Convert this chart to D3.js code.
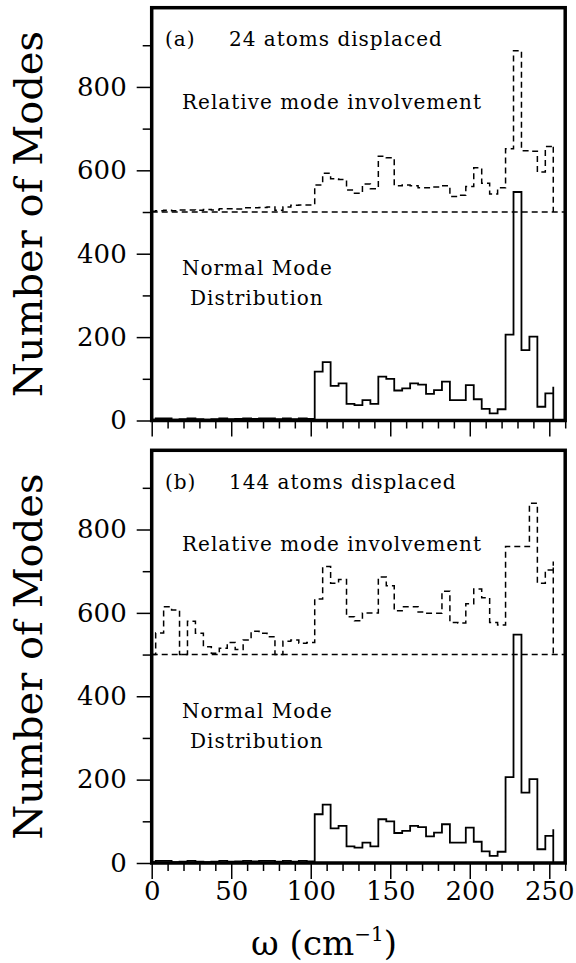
<!DOCTYPE html>
<html>
<head>
<meta charset="utf-8">
<script src="https://cdn.jsdelivr.net/npm/d3@7"></script>
<style>
  body { margin: 0; background: #fff; }
  svg { display: block; }
</style>
</head>
<body>
<svg id="chart" width="576" height="963"></svg>
<script>
// bin centres (cm^-1), 5 cm^-1 wide bins
var omega = [0, 5, 10, 15, 20, 25, 30, 35, 40, 45, 50, 55, 60, 65, 70, 75, 80, 85, 90, 95, 100,
    105, 110, 115, 120, 125, 130, 135, 140, 145, 150, 155, 160, 165, 170, 175, 180, 185, 190, 195, 200,
    205, 210, 215, 220, 225, 230, 235, 240, 245, 250];

// normal mode distribution (same in both panels)
var normalModes = [2, 5, 5, 2, 3, 5, 3, 2, 3, 5, 3, 4, 5, 4, 5, 5, 3, 5, 3, 5, 4,
    117, 140, 83, 89, 40, 37, 49, 40, 105, 100, 72, 77, 89, 86, 64, 73, 93, 49, 49, 85,
    51, 28, 17, 27, 206, 548, 169, 201, 33, 65];
var normalEnd = 81;

// relative mode involvement, drawn on top of the 500 line
var involvementA = [502, 503, 504, 503, 505, 505, 504, 506, 505, 508, 508, 507, 510, 510, 511, 512, 504, 512, 516, 517, 517,
    565, 593, 580, 578, 553, 545, 567, 556, 634, 630, 563, 565, 563, 558, 558, 560, 563, 537, 540, 561,
    606, 569, 543, 558, 652, 887, 647, 646, 596, 657];
var involvementAEnd = 660;

var involvementB = [500, 552, 615, 607, 500, 580, 551, 519, 503, 515, 529, 512, 535, 556, 551, 543, 500, 532, 535, 527, 529,
    633, 711, 671, 680, 591, 581, 600, 600, 686, 665, 605, 615, 615, 602, 599, 599, 652, 577, 576, 622,
    657, 636, 577, 571, 759, 759, 759, 863, 671, 703];
var involvementBEnd = 723;

var offsetLine = 500;

var yMajor = [0, 200, 400, 600, 800];
var yMinor = [100, 300, 500, 700, 900];
var xMajor = [0, 50, 100, 150, 200, 250];
var xMinor = [10, 20, 30, 40, 60, 70, 80, 90, 110, 120, 130, 140, 160, 170, 180, 190, 210, 220, 230, 240, 260];

var panels = [
    { top: 7.7, bottom: 420.5, tag: "(a)", title: "24 atoms displaced", involvement: involvementA, invEnd: involvementAEnd, labels: false },
    { top: 450.3, bottom: 863, tag: "(b)", title: "144 atoms displaced", involvement: involvementB, invEnd: involvementBEnd, labels: true }
];

var svg = d3.select("#chart");
var serif = "'DejaVu Serif', serif";

var x = d3.scaleLinear().domain([0, 260]).range([151.7, 565.2]);

function stepPoints(values, endValue, base) {
    var pts = values.map((v, i) => [Math.max(0, omega[i] - 2.5), v]);
    var last = omega[omega.length - 1] + 2.5;
    pts.push([last, endValue]);
    pts.push([last, base]);
    return pts;
}

function drawPanel(p) {
    var y = d3.scaleLinear().domain([0, 990]).range([p.bottom, p.top]);
    var g = svg.append("g");

    var line = d3.line()
        .x(d => x(d[0]))
        .y(d => y(d[1]))
        .curve(d3.curveStepAfter);

    // y axis, major + minor ticks
    var yAxis = g.append("g")
        .attr("transform", "translate(" + x(0) + ",0)")
        .call(d3.axisLeft(y).tickValues(yMajor).tickSize(15).tickPadding(10));
    yAxis.select(".domain").remove();
    yAxis.selectAll("text").style("font-family", serif).style("font-size", "26px").attr("fill", "#000");
    yAxis.selectAll("line").attr("stroke-width", 1.5);

    var yAxisMinor = g.append("g")
        .attr("transform", "translate(" + x(0) + ",0)")
        .call(d3.axisLeft(y).tickValues(yMinor).tickSize(9).tickFormat(""));
    yAxisMinor.select(".domain").remove();
    yAxisMinor.selectAll("line").attr("stroke-width", 1.5);

    // x axis
    var xAxis = g.append("g")
        .attr("transform", "translate(0," + p.bottom + ")")
        .call(d3.axisBottom(x).tickValues(xMajor).tickSize(16).tickPadding(3)
            .tickFormat(p.labels ? d3.format("d") : ""));
    xAxis.select(".domain").remove();
    xAxis.selectAll("text").style("font-family", serif).style("font-size", "26px").attr("fill", "#000");
    xAxis.selectAll("line").attr("stroke-width", 1.5);

    var xAxisMinor = g.append("g")
        .attr("transform", "translate(0," + p.bottom + ")")
        .call(d3.axisBottom(x).tickValues(xMinor).tickSize(8).tickFormat(""));
    xAxisMinor.select(".domain").remove();
    xAxisMinor.selectAll("line").attr("stroke-width", 1.5);

    // dashed reference line at 500
    g.append("line")
        .attr("x1", x(0)).attr("x2", x(260))
        .attr("y1", y(offsetLine)).attr("y2", y(offsetLine))
        .attr("stroke", "#000").attr("stroke-width", 1.5)
        .attr("stroke-dasharray", "6,4");

    // relative mode involvement (dashed)
    g.append("path")
        .attr("d", line(stepPoints(p.involvement, p.invEnd, offsetLine)))
        .attr("fill", "none").attr("stroke", "#000").attr("stroke-width", 1.5)
        .attr("stroke-dasharray", "6,4");

    // normal mode distribution (solid)
    g.append("path")
        .attr("d", line(stepPoints(normalModes, normalEnd, 0)))
        .attr("fill", "none").attr("stroke", "#000").attr("stroke-width", 1.8);

    // frame
    g.append("rect")
        .attr("x", x(0)).attr("y", y(990))
        .attr("width", x(260) - x(0)).attr("height", y(0) - y(990))
        .attr("fill", "none").attr("stroke", "#000").attr("stroke-width", 3.5);

    // annotations
    var txt = (tx, ty, s) => g.append("text")
        .attr("x", tx).attr("y", ty)
        .style("font-family", serif).style("font-size", "20px")
        .style("letter-spacing", "1px")
        .text(s);
    txt(165, p.top + 38.5, p.tag);
    txt(229, p.top + 38.5, p.title);
    txt(182, p.top + 101, "Relative mode involvement");
    txt(182, p.top + 267.5, "Normal Mode");
    txt(190, p.top + 297.5, "Distribution");

    // y label
    g.append("text")
        .attr("transform", "translate(42," + ((p.top + p.bottom) / 2) + ") rotate(-90)")
        .attr("text-anchor", "middle")
        .style("font-family", serif).style("font-size", "40px")
        .text("Number of Modes");
}

panels.forEach(drawPanel);

// x label
var xl = svg.append("text")
    .attr("x", 324).attr("y", 955)
    .attr("text-anchor", "middle")
    .style("font-family", serif).style("font-size", "34px");
xl.append("tspan").text("\u03c9 (cm");
xl.append("tspan").attr("dy", -14).style("font-size", "20px").text("\u22121");
xl.append("tspan").attr("dy", 14).text(")");
</script>
</body>
</html>
